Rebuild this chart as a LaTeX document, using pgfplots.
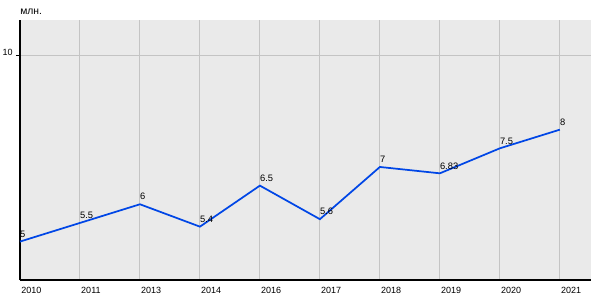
\documentclass[border=0pt]{standalone}
\usepackage{fontspec}
\setmainfont{Liberation Sans}
\usepackage{pgfplots}
\pgfplotsset{compat=1.18}
\definecolor{bg}{HTML}{EAEAEA}
\definecolor{gridc}{HTML}{C4C4C4}
\definecolor{linec}{HTML}{0046E6}
\begin{document}
\fontsize{6.75}{8}\selectfont
\begin{tikzpicture}
\useasboundingbox (0,0) rectangle (450pt,225pt);
\begin{axis}[
 at={(15pt,15pt)}, anchor=south west,
 scale only axis, width=428.25pt, height=195pt,
 xmin=0, xmax=9.52, ymin=3.97, ymax=10.94,
 axis background/.style={fill=bg},
 axis x line*=bottom, axis y line*=left,
 xtick={0,...,9},
 xticklabels={2010,2011,2013,2014,2016,2017,2018,2019,2020,2021},
 ytick={10},
 xmajorgrids, ymajorgrids,
 grid style={gridc, line width=0.75pt},
 x tick style={draw=none},
 y tick style={black, line width=0.75pt},
 major tick length=3pt, tick align=outside,
 ticklabel style={font=\fontsize{6.75}{8}\selectfont},
 /pgf/number format/assume math mode=true,
 xticklabel style={anchor=north west, xshift=-1.5pt, yshift=0pt},
 yticklabel style={yshift=2pt},
 axis line style={black, line width=1pt},
 nodes near coords, point meta=explicit symbolic,
 nodes near coords style={anchor=south west, xshift=-1.5pt, yshift=1.5pt, inner sep=1pt, font=\fontsize{7}{8}\selectfont, text=black},
 clip=false,
]
\addplot[linec, line width=1.3pt, mark=none] table[meta=lab] {
x y lab
0 5 5
1 5.5 5.5
2 6 6
3 5.4 5.4
4 6.5 6.5
5 5.6 5.6
6 7 7
7 6.83 6.83
8 7.5 7.5
9 8 8
};
\node[anchor=base west, inner sep=0pt, font=\fontsize{7.75}{9}\selectfont] at (rel axis cs:0,1) [yshift=4pt] {млн.};
\end{axis}
\end{tikzpicture}
\end{document}
